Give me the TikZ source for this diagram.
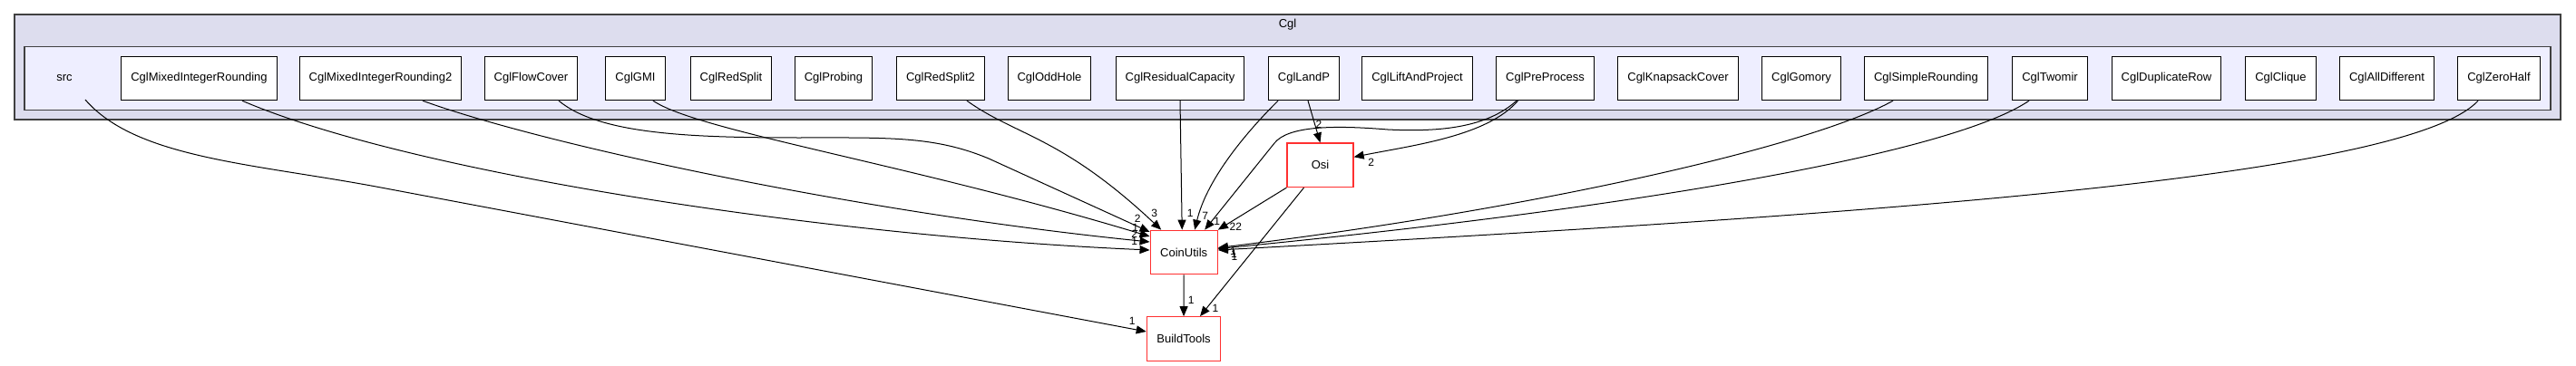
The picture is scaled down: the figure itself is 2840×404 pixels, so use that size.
\documentclass[tikz,border=0pt]{standalone}
\usepackage{fontspec}
\setmainfont{Liberation Sans}
\usetikzlibrary{arrows.meta}
\definecolor{clusterfill}{HTML}{DDDDEE}
\definecolor{srcfill}{HTML}{EEEEFF}
\definecolor{clusterline}{HTML}{404040}
\definecolor{pkgred}{HTML}{FF3030}
\tikzset{
  dirbox/.style={draw=black, fill=white, line width=1pt, minimum height=48.4pt, inner xsep=10.5pt, font=\fontsize{13}{15}\selectfont},
  extbox/.style={draw=pkgred, fill=white, line width=1.3pt, minimum height=48.4pt, minimum width=73pt, inner xsep=11pt, font=\fontsize{13}{15}\selectfont},
  dep/.style={draw=black, line width=1pt, -{Triangle[length=11pt,width=9pt]}},
  count/.style={font=\fontsize{12}{14}\selectfont, inner sep=0pt}
}
\begin{document}
\begin{tikzpicture}[x=1pt,y=-1pt]
  \useasboundingbox (0,0) rectangle (2840,404);
  \draw[clusterline, fill=clusterfill, line width=2pt] (16,15.7) rectangle (2823,131.7);
  \node[font=\fontsize{13}{15}\selectfont] (cgl) at (1419.5,27.3) {Cgl};
  \draw[clusterline, fill=srcfill, line width=1.3pt] (27,51.7) rectangle (2812,121.7);
  \node[font=\fontsize{13}{15}\selectfont] (src) at (71,86) {src};
  \coordinate (srcfoot) at (94,110);

  \node[dirbox] (mir) at (219.5,86.5) {CglMixedIntegerRounding};
  \node[dirbox] (mirtwo) at (419.5,86.5) {CglMixedIntegerRounding2};
  \node[dirbox] (flow) at (585.5,86.5) {CglFlowCover};
  \node[dirbox] (gmi) at (700.5,86.5) {CglGMI};
  \node[dirbox] (redsplit) at (806,86.5) {CglRedSplit};
  \node[dirbox] (probing) at (919,86.5) {CglProbing};
  \node[dirbox] (redsplittwo) at (1037,86.5) {CglRedSplit2};
  \node[dirbox] (oddhole) at (1157,86.5) {CglOddHole};
  \node[dirbox] (residual) at (1301,86.5) {CglResidualCapacity};
  \node[dirbox] (landp) at (1437.5,86.5) {CglLandP};
  \node[dirbox] (lift) at (1562.5,86.5) {CglLiftAndProject};
  \node[dirbox] (preprocess) at (1703.5,86.5) {CglPreProcess};
  \node[dirbox] (knapsack) at (1850,86.5) {CglKnapsackCover};
  \node[dirbox] (gomory) at (1986,86.5) {CglGomory};
  \node[dirbox] (simple) at (2123.5,86.5) {CglSimpleRounding};
  \node[dirbox] (twomir) at (2260,86.5) {CglTwomir};
  \node[dirbox] (duprow) at (2388.5,86.5) {CglDuplicateRow};
  \node[dirbox] (clique) at (2514.5,86.5) {CglClique};
  \node[dirbox] (alldiff) at (2631.5,86.5) {CglAllDifferent};
  \node[dirbox] (zerohalf) at (2755,86.5) {CglZeroHalf};

  \node[extbox] (osi) at (1455.5,182.3) {Osi};
  \node[extbox] (coin) at (1305.2,278.5) {CoinUtils};
  \node[extbox] (build) at (1305,374) {BuildTools};

  \draw[dep] (srcfoot) .. controls (150,175) and (280,180.5) .. (420,207) -- ([yshift=8pt]build.west);
  \draw[dep] ([xshift=47.5pt]mir.south) .. controls (450,190) and (900,260) .. ([yshift=2.5pt]coin.west);
  \draw[dep] ([xshift=46.5pt]mirtwo.south) .. controls (600,160) and (950,235) .. ([yshift=11.5pt]coin.west);
  \draw[dep] ([xshift=30.5pt]flow.south) .. controls (660,148) and (760,152) .. (880,152) .. controls (980,152) and (1030,150) .. (1090,175) -- ([yshift=22.5pt]coin.west);
  \draw[dep] ([xshift=19.5pt]gmi.south) .. controls (770,145) and (1000,180) .. ([yshift=17.5pt]coin.west);
  \draw[dep] ([xshift=29pt]redsplittwo.south) .. controls (1120,150) and (1170,150) .. ([xshift=-25pt]coin.north);
  \draw[dep] (residual.south) -- ([xshift=-2pt]coin.north);
  \draw[dep] ([xshift=-28.5pt]landp.south) .. controls (1370,150) and (1330,200) .. ([xshift=12pt]coin.north);
  \draw[dep] ([xshift=4.5pt]landp.south) -- (osi.north);
  \draw[dep] ([xshift=-31.5pt]preprocess.south) .. controls (1640,140) and (1590,146) .. (1530,143) .. controls (1470,138) and (1420,139) .. (1405,158) -- ([xshift=23pt]coin.north);
  \draw[dep] ([xshift=-30pt]preprocess.south) .. controls (1640,150) and (1560,160) .. ([yshift=9pt]osi.east);
  \draw[dep] ([xshift=-36.5pt]simple.south) .. controls (2000,160) and (1700,230) .. ([yshift=5pt]coin.east);
  \draw[dep] ([xshift=-23pt]twomir.south) .. controls (2150,170) and (1800,230) .. ([yshift=4pt]coin.east);
  \draw[dep] ([xshift=-23pt]zerohalf.south) .. controls (2650,200) and (2000,240) .. ([yshift=2.5pt]coin.east);
  \draw[dep] (osi.south west) -- (coin.north east);
  \draw[dep] ([xshift=-18pt]osi.south) -- ([xshift=18pt]build.north);
  \draw[dep] (coin) -- (build);

  \node[count] (nsrc) at (1248.3,354) {1};
  \node[count] (nflow) at (1254.3,241.7) {2};
  \node[count] (ngmi) at (1251.7,251) {1};
  \node[count] (nmirtwo) at (1250.7,258.3) {2};
  \node[count] (nmir) at (1250.7,266.7) {1};
  \node[count] (nredsplittwo) at (1272.7,235) {3};
  \node[count] (nresidual) at (1312.3,235) {1};
  \node[count] (nlandp) at (1328.7,238.3) {7};
  \node[count] (npreprocess) at (1341.7,244.3) {1};
  \node[count] (nosi) at (1362.3,250.7) {22};
  \node[count] (nsimple) at (1359.5,277.5) {1};
  \node[count] (ntwomir) at (1360.5,280.5) {1};
  \node[count] (nzerohalf) at (1361,283.3) {1};
  \node[count] (ncoin) at (1313.3,331.7) {1};
  \node[count] (nosibuild) at (1340,340.7) {1};
  \node[count] (nlandposi) at (1454,137.3) {2};
  \node[count] (npreosi) at (1511.7,179) {2};
\end{tikzpicture}
\end{document}
